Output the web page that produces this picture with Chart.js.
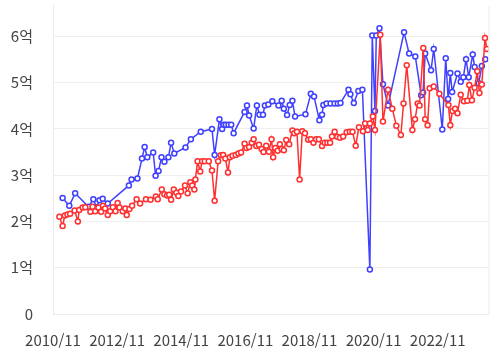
<!DOCTYPE html>
<html lang="ko">
<head>
    <meta charset="UTF-8">
    <title>실거래가 추이</title>
    <script src="https://cdn.jsdelivr.net/npm/chart.js"></script>
    <style>
        body { margin: 0; background: #fff; }
        #wrap { width: 494px; height: 359px; }
    </style>
</head>
<body>
    <div id="wrap"><canvas id="priceChart"></canvas></div>

    <script>
        // x = months since 2010/11, y = price in 억
        const tickLabels = ['2010/11', '2012/11', '2014/11', '2016/11', '2018/11', '2020/11', '2022/11'];

        const blueMonths = [3.6, 6.1, 8.3, 13.3, 15.1, 16.3, 17.4, 18.6, 20.5, 28.4, 29.4, 31.6, 33.3, 34.3, 35.3, 37.5, 38.4, 39.5, 40.6,
            41.7, 43.2, 44.2, 45.4, 49.6, 51.6, 55.3, 59.5, 60.5, 62.3, 63.3, 63.9, 64.7, 65.7, 66.7, 67.6, 71.7, 72.6, 73.4, 75.1,
            76.3, 77.3, 78.6, 79.3, 80.6, 82.1, 84.4, 85.6, 86.4, 87.6, 88.6, 89.6, 90.6, 94.5, 96.5, 97.7, 99.7, 100.7, 101.2, 102.4,
            103.9, 105.4, 106.6, 107.6, 110.6, 111.3, 112.6, 114.3, 115.8, 118.6, 119.5, 120.5, 121.0, 122.2, 123.5, 125.4, 131.4, 133.3, 135.6, 137.8,
            138.5, 139.3, 141.5, 142.5, 145.7, 147.0, 147.9, 148.7, 149.4, 151.4, 152.6, 153.6, 154.6, 155.6, 157.1, 157.8, 159.3, 160.5, 161.8];
        const blueValues = [2.51, 2.34, 2.61, 2.32, 2.48, 2.31, 2.46, 2.49, 2.39, 2.78, 2.91, 2.93, 3.36, 3.61, 3.39, 3.49, 2.99, 3.09, 3.39,
            3.29, 3.39, 3.70, 3.47, 3.60, 3.78, 3.94, 4.00, 3.44, 4.21, 4.00, 4.09, 4.09, 4.09, 4.09, 3.91, 4.37, 4.51, 4.29, 4.01,
            4.51, 4.31, 4.31, 4.51, 4.53, 4.60, 4.51, 4.61, 4.44, 4.30, 4.52, 4.61, 4.27, 4.32, 4.76, 4.70, 4.19, 4.31, 4.52, 4.55,
            4.55, 4.55, 4.55, 4.56, 4.85, 4.75, 4.56, 4.82, 4.85, 0.96, 6.02, 4.39, 6.02, 6.18, 4.97, 4.51, 6.09, 5.63, 5.57, 4.73,
            4.79, 5.63, 5.27, 5.73, 3.99, 5.53, 4.65, 5.21, 4.80, 5.20, 5.02, 5.12, 5.51, 5.12, 5.61, 5.34, 4.99, 5.36, 5.51];

        const redMonths = [2.4, 3.6, 4.4, 5.4, 6.4, 8.1, 9.3, 9.8, 11.1, 12.1, 14.0, 14.8, 15.8, 17.0, 18.0, 18.7, 19.5, 20.5, 21.4, 22.4,
            23.4, 24.2, 24.9, 26.1, 27.1, 27.6, 28.6, 29.6, 31.3, 32.6, 34.8, 36.5, 38.5, 39.2, 40.7, 41.7, 42.7, 43.5, 44.2, 45.2,
            46.2, 46.9, 47.9, 49.4, 50.4, 51.4, 52.1, 52.9, 53.3, 54.1, 55.1, 55.8, 56.8, 58.3, 59.5, 60.5, 61.8, 62.8, 63.7, 64.5,
            65.5, 66.2, 67.2, 68.4, 69.4, 70.4, 71.7, 72.4, 73.4, 74.4, 75.1, 76.1, 77.1, 78.1, 78.8, 79.8, 80.8, 81.8, 82.4, 83.2,
            84.1, 84.9, 85.6, 86.4, 87.3, 88.4, 89.6, 90.3, 91.3, 92.3, 93.3, 94.3, 95.5, 96.5, 97.5, 98.5, 99.5, 100.7, 101.7, 102.7,
            103.7, 104.4, 105.4, 106.4, 107.4, 108.6, 109.9, 111.1, 112.1, 113.3, 114.5, 116.0, 116.8, 117.8, 118.6, 119.7, 120.5, 122.5, 123.5, 125.4,
            127.0, 128.5, 130.2, 131.2, 132.4, 134.5, 135.5, 136.5, 137.2, 138.6, 139.3, 140.2, 141.0, 142.5, 144.6, 148.0, 148.7, 149.5, 150.5, 151.4,
            152.6, 153.8, 155.1, 155.8, 156.8, 157.8, 158.8, 159.6, 160.5, 161.7, 162.4];
        const redValues = [2.10, 1.90, 2.13, 2.15, 2.17, 2.24, 2.00, 2.25, 2.30, 2.31, 2.21, 2.32, 2.22, 2.30, 2.21, 2.34, 2.28, 2.14, 2.22, 2.31,
            2.22, 2.40, 2.30, 2.22, 2.28, 2.14, 2.27, 2.34, 2.48, 2.39, 2.48, 2.47, 2.54, 2.48, 2.69, 2.59, 2.56, 2.58, 2.47, 2.69,
            2.62, 2.55, 2.65, 2.78, 2.61, 2.85, 2.78, 2.69, 2.91, 3.30, 3.08, 3.30, 3.30, 3.30, 3.10, 2.45, 3.30, 3.43, 3.44, 3.36,
            3.06, 3.39, 3.42, 3.44, 3.47, 3.49, 3.68, 3.59, 3.61, 3.70, 3.78, 3.63, 3.66, 3.57, 3.50, 3.64, 3.51, 3.78, 3.39, 3.59,
            3.53, 3.67, 3.57, 3.54, 3.76, 3.67, 3.97, 3.91, 3.94, 2.91, 3.95, 3.91, 3.77, 3.78, 3.70, 3.78, 3.78, 3.63, 3.70, 3.70,
            3.70, 3.84, 3.94, 3.83, 3.81, 3.84, 3.93, 3.94, 3.94, 3.64, 4.04, 3.95, 4.12, 3.98, 4.12, 4.27, 3.98, 6.04, 4.16, 4.85,
            4.44, 4.07, 3.87, 4.55, 5.38, 3.98, 4.21, 4.55, 4.51, 5.75, 4.21, 4.08, 4.88, 4.92, 4.76, 4.52, 4.08, 4.39, 4.44, 4.34,
            4.74, 4.60, 4.61, 4.95, 4.62, 4.89, 5.25, 4.78, 4.96, 5.97, 5.73];

        const toPoints = (xs, ys) => xs.map((x, i) => ({ x: x, y: ys[i] }));

        // thin frame line on the right side of the plot
        const rightBorder = {
            id: 'rightBorder',
            afterDraw(chart) {
                const a = chart.chartArea, c = chart.ctx;
                c.save();
                c.strokeStyle = '#ebebeb';
                c.lineWidth = 1;
                c.beginPath();
                c.moveTo(a.right + 0.5, a.top);
                c.lineTo(a.right + 0.5, a.bottom);
                c.stroke();
                c.restore();
            }
        };

        const font = { family: "'Noto Sans CJK KR', 'Noto Sans', sans-serif", size: 15 };

        new Chart(document.getElementById('priceChart'), {
            type: 'line',
            data: {
                datasets: [{
                    data: toPoints(redMonths, redValues),
                    borderColor: 'rgb(255, 48, 48)',
                    pointBorderColor: 'rgb(255, 48, 48)',
                    pointBackgroundColor: '#fff',
                    borderWidth: 1.5,
                    pointRadius: 2.5,
                    pointBorderWidth: 1.5
                }, {
                    data: toPoints(blueMonths, blueValues),
                    borderColor: 'rgb(64, 64, 255)',
                    pointBorderColor: 'rgb(64, 64, 255)',
                    pointBackgroundColor: '#fff',
                    borderWidth: 1.5,
                    pointRadius: 2.5,
                    pointBorderWidth: 1.5
                }]
            },
            options: {
                responsive: true,
                maintainAspectRatio: false,
                animation: false,
                layout: { padding: { left: 7, right: 3, top: 0, bottom: 10 } },
                plugins: { legend: { display: false }, tooltip: { enabled: false } },
                scales: {
                    x: {
                        type: 'linear',
                        min: 0,
                        max: 163,
                        grid: { display: false, drawTicks: false },
                        border: { color: '#ebebeb' },
                        ticks: {
                            stepSize: 24,
                            includeBounds: false,
                            autoSkip: false,
                            maxRotation: 0,
                            padding: 17,
                            color: '#444',
                            font: font,
                            callback: v => tickLabels[v / 24]
                        },
                        afterFit: s => { s.height = 35; s.paddingLeft = 0; s.paddingRight = 0; }
                    },
                    y: {
                        min: 0,
                        max: 6.67,
                        grid: { color: '#efefef', drawTicks: false },
                        border: { color: '#ebebeb' },
                        ticks: {
                            stepSize: 1,
                            includeBounds: false,
                            padding: 20,
                            color: '#444',
                            font: font,
                            callback: v => v === 0 ? '0' : v + '억'
                        },
                        afterFit: s => { s.width = 46; s.paddingTop = 0; s.paddingBottom = 0; }
                    }
                }
            },
            plugins: [rightBorder]
        });
    </script>
</body>
</html>
